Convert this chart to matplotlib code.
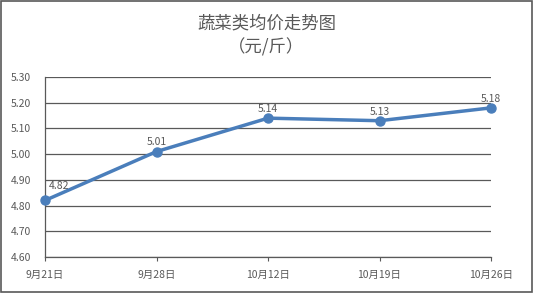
import matplotlib.pyplot as plt
from matplotlib.patches import Rectangle

plt.rcParams['font.family'] = ['Noto Sans CJK SC', 'DejaVu Sans']

dates = ['9月21日', '9月28日', '10月12日', '10月19日', '10月26日']
prices = [4.82, 5.01, 5.14, 5.13, 5.18]
yticks = [4.60, 4.70, 4.80, 4.90, 5.00, 5.10, 5.20, 5.30]

grey = '#595959'
blue = '#4A7EBB'

fig = plt.figure(figsize=(5.33, 2.93), dpi=100)
ax = fig.add_axes([45 / 533, 1 - 257 / 293, 446 / 533, 180 / 293])

x = list(range(len(dates)))
ax.plot(x, prices, color=blue, lw=2.5, marker='o', ms=6.5, zorder=3, clip_on=False)

for i, v in enumerate(prices):
    if i == 0:
        ax.annotate(f'{v:.2f}', (i, v), xytext=(3, 7), textcoords='offset points',
                    ha='left', va='bottom', fontsize=7.5, color=grey)
    else:
        ax.annotate(f'{v:.2f}', (i, v), xytext=(0, 3), textcoords='offset points',
                    ha='center', va='bottom', fontsize=7.5, color=grey)

ax.set_xlim(0, len(dates) - 1)
ax.set_ylim(4.60, 5.30)
ax.set_yticks(yticks)
ax.set_yticklabels([f'{t:.2f}' for t in yticks])
ax.set_xticks(x)
ax.set_xticklabels(dates)
ax.yaxis.grid(True, color=grey, lw=0.9)
ax.set_axisbelow(True)
for s in ['top', 'right']:
    ax.spines[s].set_visible(False)
for s in ['left', 'bottom']:
    ax.spines[s].set_color(grey)
    ax.spines[s].set_linewidth(0.9)
ax.tick_params(axis='y', length=0, labelsize=7.5, labelcolor=grey, pad=10)
ax.tick_params(axis='x', length=3, color=grey, labelsize=7.5, labelcolor=grey, pad=6)

fig.text(0.5, 1 - 24 / 293, '蔬菜类均价走势图', ha='center', va='center', fontsize=12.5, color=grey)
fig.text(0.5, 1 - 47 / 293, '（元/斤）', ha='center', va='center', fontsize=12.5, color=grey)

fig.patches.append(Rectangle((1 / 533, 1 / 293), 531 / 533, 291 / 293, transform=fig.transFigure,
                             fill=False, edgecolor=grey, lw=1.2))

fig.savefig('out.png', dpi=100)
